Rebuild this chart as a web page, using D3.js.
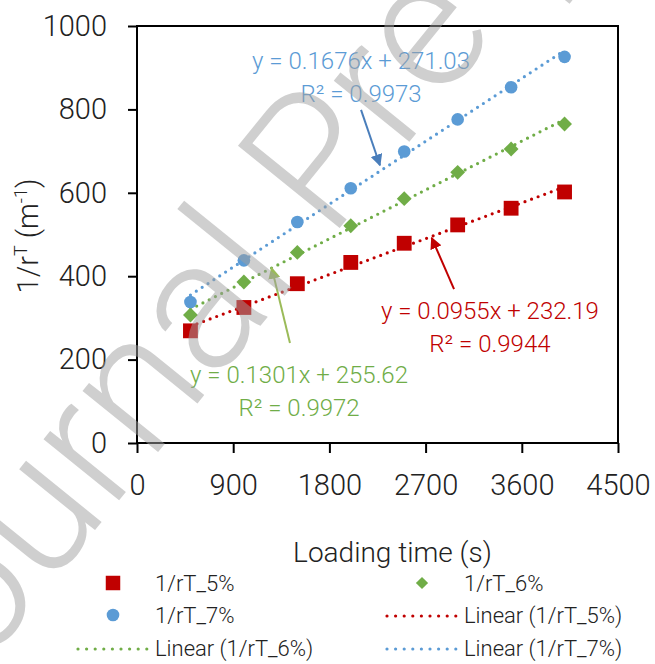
<!DOCTYPE html>
<html>
<head>
<meta charset="utf-8">
<script src="https://cdn.jsdelivr.net/npm/d3@7"></script>
<style>
  body { margin: 0; background: #fff; }
  svg text { font-family: Roboto, "Open Sans", sans-serif; font-weight: 300; }
</style>
</head>
<body>
<div id="chart"></div>
<script>
// loading times (s)
const loadTimes = [500, 1000, 1500, 2000, 2500, 3000, 3500, 4000];
// 1/rT values (m^-1)
const rt5 = [269, 325, 382, 433, 479, 523, 563, 602];
const rt6 = [307, 386, 457, 521, 586, 649, 705, 765];
const rt7 = [338, 438, 530, 611, 699, 776, 853, 926];
const seriesNames = ["1/rT_5%", "1/rT_6%", "1/rT_7%"];
const slopes = [0.0955, 0.1301, 0.1676];
const intercepts = [232.19, 255.62, 271.03];
const rSquared = [0.9944, 0.9972, 0.9973];
const xTicks = [0, 900, 1800, 2700, 3600, 4500];
const yTicks = [0, 200, 400, 600, 800, 1000];

const colors = ["#C00000", "#70AD47", "#5B9BD5"];
const arrowColors = ["#C00000", "#9BBB59", "#4A7EBB"];
// square, diamond (square turned 45deg), circle
const shapes = [d3.symbolSquare, d3.symbolSquare, d3.symbolCircle];
const shapeRot = [0, 45, 0];
const shapeSizes = [220, 110, 125];

const width = 655, height = 664;
const svg = d3.select("#chart").append("svg")
  .attr("width", width)
  .attr("height", height);

const x = d3.scaleLinear().domain([0, 4500]).range([137, 618]);
const y = d3.scaleLinear().domain([0, 1000]).range([443, 26]);

const defs = svg.append("defs");
arrowColors.forEach((c, i) => {
  defs.append("marker")
    .attr("id", "arrow" + i)
    .attr("viewBox", "0 0 10 10")
    .attr("refX", 9).attr("refY", 5)
    .attr("markerWidth", 6).attr("markerHeight", 6)
    .attr("markerUnits", "strokeWidth")
    .attr("orient", "auto")
    .append("path")
    .attr("d", "M0,0 L10,5 L0,10 z")
    .attr("fill", c);
});

// axes
const yAxis = svg.append("g")
  .attr("transform", `translate(${x(0)},0)`)
  .call(d3.axisLeft(y).tickValues(yTicks).tickSize(9).tickPadding(21).tickFormat(d3.format("d")));
const xAxis = svg.append("g")
  .attr("transform", `translate(0,${y(0)})`)
  .call(d3.axisBottom(x).tickValues(xTicks).tickSize(10).tickPadding(21).tickFormat(d3.format("d")));
[xAxis, yAxis].forEach(a => {
  a.select(".domain").remove();
  a.selectAll(".tick line").attr("stroke", "#000").attr("stroke-width", 2);
  a.selectAll(".tick text").attr("fill", "#222").attr("font-size", "29px")
    .attr("font-family", "Roboto, sans-serif");
});

svg.append("rect")
  .attr("x", x(0)).attr("y", y(1000))
  .attr("width", x(4500) - x(0)).attr("height", y(0) - y(1000))
  .attr("fill", "none").attr("stroke", "#000").attr("stroke-width", 2);

// axis titles
svg.append("text")
  .attr("x", (x(0) + x(4500)) / 2 + 15).attr("y", 562)
  .attr("text-anchor", "middle").attr("font-size", "28px").attr("fill", "#222")
  .text("Loading time (s)");

const yTitle = svg.append("text")
  .attr("transform", "translate(38,236) rotate(-90)")
  .attr("text-anchor", "middle").attr("font-size", "29px").attr("fill", "#222");
yTitle.append("tspan").text("1/r");
yTitle.append("tspan").attr("dy", -11).attr("font-size", "18px").text("T");
yTitle.append("tspan").attr("dy", 11).text(" (m");
yTitle.append("tspan").attr("dy", -11).attr("font-size", "18px").text("-1");
yTitle.append("tspan").attr("dy", 11).text(")");

// trend lines
const allSeries = [rt5, rt6, rt7];
const plot = svg.append("g");
allSeries.forEach((vals, i) => {
  const ends = [d3.min(loadTimes), d3.max(loadTimes)];
  plot.append("line")
    .attr("x1", x(ends[0])).attr("y1", y(slopes[i] * ends[0] + intercepts[i]))
    .attr("x2", x(ends[1])).attr("y2", y(slopes[i] * ends[1] + intercepts[i]))
    .attr("stroke", colors[i]).attr("stroke-width", 3.2)
    .attr("stroke-linecap", "round").attr("stroke-dasharray", "0 7");
});

// points
allSeries.forEach((vals, i) => {
  plot.append("g").selectAll("path")
    .data(vals.map((v, k) => [loadTimes[k], v]))
    .join("path")
    .attr("transform", d => `translate(${x(d[0])},${y(d[1])}) rotate(${shapeRot[i]})`)
    .attr("d", d3.symbol().type(shapes[i]).size(shapeSizes[i]))
    .attr("fill", colors[i]);
});

// equation labels + arrows (data coords)
const labelPos = [[3302, 297], [1516, 144], [2096, 897]];
const arrowFrom = [[2966, 369], [1431, 240], [2096, 799]];
const arrowTo = [[2757, 492], [1260, 420], [2273, 666]];
[0, 1, 2].forEach(i => {
  const t = svg.append("text")
    .attr("text-anchor", "middle").attr("font-size", "24px").attr("fill", colors[i]);
  t.append("tspan").attr("x", x(labelPos[i][0])).attr("y", y(labelPos[i][1]))
    .text(`y = ${slopes[i].toFixed(4)}x + ${intercepts[i].toFixed(2)}`);
  t.append("tspan").attr("x", x(labelPos[i][0])).attr("y", y(labelPos[i][1]) + 33)
    .text(`R² = ${rSquared[i].toFixed(4)}`);
  svg.append("line")
    .attr("x1", x(arrowFrom[i][0])).attr("y1", y(arrowFrom[i][1]))
    .attr("x2", x(arrowTo[i][0])).attr("y2", y(arrowTo[i][1]))
    .attr("stroke", arrowColors[i]).attr("stroke-width", 2)
    .attr("marker-end", `url(#arrow${i})`);
});

// legend
const legend = svg.append("g");
const legendItems = [
  { kind: "pt", s: 0, col: 0, row: 0 },
  { kind: "pt", s: 1, col: 1, row: 0 },
  { kind: "pt", s: 2, col: 0, row: 1 },
  { kind: "ln", s: 0, col: 1, row: 1 },
  { kind: "ln", s: 1, col: 0, row: 2 },
  { kind: "ln", s: 2, col: 1, row: 2 }
];
const colX = [78, 387], rowY = [583, 615, 648];
const legendSizes = [210, 75, 125];
legendItems.forEach(it => {
  const gx = colX[it.col], gy = rowY[it.row];
  if (it.kind === "pt") {
    legend.append("path")
      .attr("transform", `translate(${gx + 35},${gy}) rotate(${shapeRot[it.s]})`)
      .attr("d", d3.symbol().type(shapes[it.s]).size(legendSizes[it.s]))
      .attr("fill", colors[it.s]);
  } else {
    legend.append("line")
      .attr("x1", gx).attr("x2", gx + 70).attr("y1", gy + 1).attr("y2", gy + 1)
      .attr("stroke", colors[it.s]).attr("stroke-width", 3.2)
      .attr("stroke-linecap", "round").attr("stroke-dasharray", "0 8.6");
  }
  legend.append("text")
    .attr("x", gx + 77).attr("y", gy + 8)
    .attr("font-size", "22px").attr("fill", "#222")
    .text(it.kind === "pt" ? seriesNames[it.s] : `Linear (${seriesNames[it.s]})`);
});

// watermark
svg.append("text")
  .attr("transform", "translate(360,203) rotate(-51)")
  .attr("text-anchor", "middle")
  .attr("font-family", "'Liberation Sans', Arial, sans-serif")
  .attr("font-weight", 400)
  .attr("font-size", "184px")
  .attr("fill", "#a0a0a0").attr("fill-opacity", 0.5)
  .text("Journal Pre-proof");
</script>
</body>
</html>
